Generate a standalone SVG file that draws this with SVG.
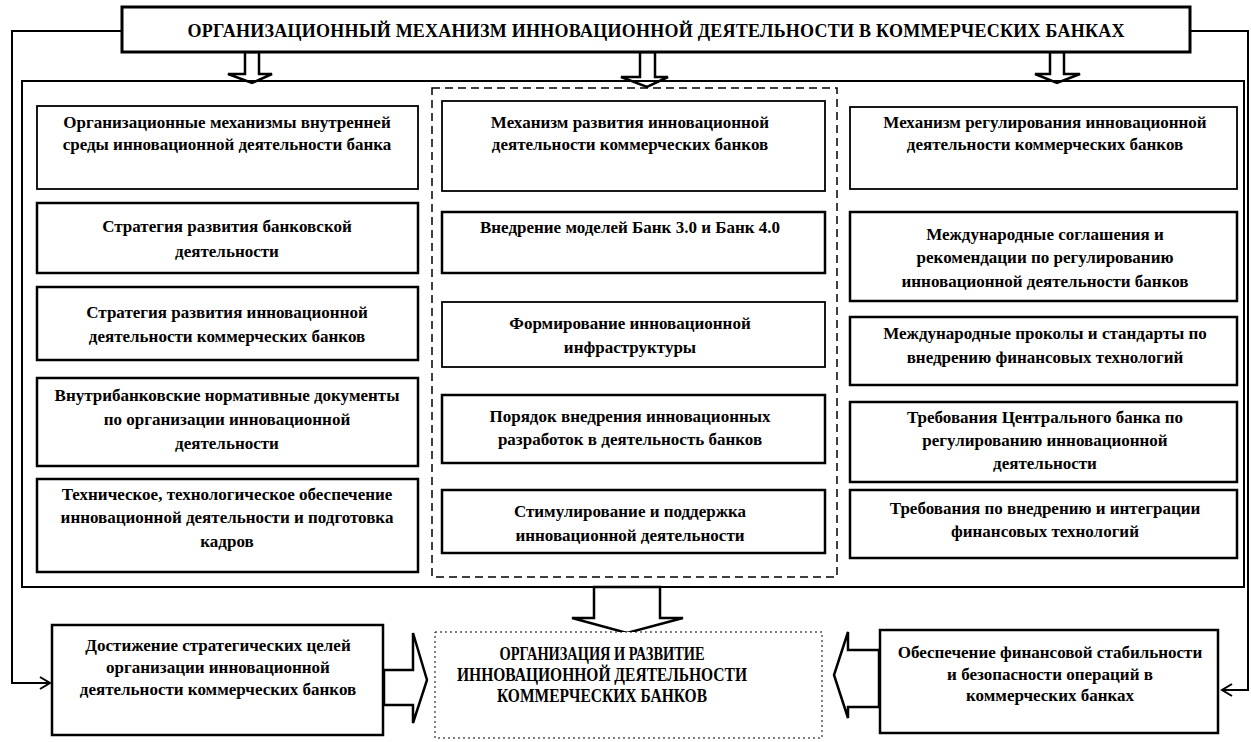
<svg xmlns="http://www.w3.org/2000/svg" width="1251" height="742" viewBox="0 0 1251 742">
<style>
.bx{fill:#fff;stroke:#000;stroke-width:2.5}
.bt{fill:#fff;stroke:#000;stroke-width:1.8}
.t{font-family:"Liberation Serif","Times New Roman",serif;font-size:17px;font-weight:bold;text-anchor:middle;fill:#000}
.tt{font-family:"Liberation Serif","Times New Roman",serif;font-size:18px;font-weight:bold;text-anchor:middle;fill:#000}
.tc{font-family:"Liberation Serif","Times New Roman",serif;font-size:19px;font-weight:bold;text-anchor:middle;fill:#000}
.ln{fill:none;stroke:#000;stroke-width:2}
.ba{fill:#fff;stroke:#000;stroke-width:2.5;stroke-linejoin:miter}
</style>
<defs>
<marker id="open" markerWidth="14" markerHeight="14" refX="12" refY="7" orient="auto" markerUnits="userSpaceOnUse">
<path d="M2,1 L12,7 L2,13" fill="none" stroke="#000" stroke-width="2"/>
</marker>
</defs>
<rect width="1251" height="742" fill="#fff"/>

<g id="connectors">
<polyline class="ln" points="122,31 12,31 12,683 50,683" marker-end="url(#open)"/>
<polyline class="ln" points="1190,31 1248,31 1248,690 1222,690" marker-end="url(#open)"/>
<polygon class="ba" points="245,52 259,52 259,74 272,74 252,83 228,74 245,74"/>
<polygon class="ba" points="640,52 655,52 655,77 668,77 647,87 621,77 640,77"/>
<polygon class="ba" points="1050,52 1064,52 1064,74 1080,74 1057,83 1035,74 1050,74"/>
<polygon class="ba" points="594,587 660,587 660,618 683,618 627,633 572,618 594,618"/>
<polygon class="ba" points="384,670 413,670 413,633 427,680 413,723 413,705 384,705"/>
<polygon class="ba" points="879,650 848,650 848,632 834,675 848,718 848,707 879,707"/>
</g>

<g id="title">
<rect x="122" y="7" width="1068" height="45" fill="#fff" stroke="#000" stroke-width="3"/>
<text class="tt" x="656" y="37" textLength="937" lengthAdjust="spacing">ОРГАНИЗАЦИОННЫЙ МЕХАНИЗМ ИННОВАЦИОННОЙ ДЕЯТЕЛЬНОСТИ В КОММЕРЧЕСКИХ БАНКАХ</text>
</g>

<g id="outer">
<rect x="22" y="81" width="1222" height="506" fill="none" stroke="#000" stroke-width="2"/>
</g>

<g id="middle-frame">
<rect x="432" y="88" width="405" height="489" fill="none" stroke="#000" stroke-width="1.5" stroke-dasharray="8,5"/>
</g>

<g id="L1"><rect class="bt" x="37" y="106" width="381" height="83"/>
<text class="t" x="227" y="128">Организационные механизмы внутренней</text>
<text class="t" x="227" y="150">среды инновационной деятельности банка</text></g>
<g id="L2"><rect class="bx" x="37" y="203" width="381" height="70"/>
<text class="t" x="227" y="232">Стратегия развития банковской</text>
<text class="t" x="227" y="257">деятельности</text></g>
<g id="L3"><rect class="bx" x="37" y="287" width="381" height="73"/>
<text class="t" x="227" y="318">Стратегия развития инновационной</text>
<text class="t" x="227" y="342">деятельности коммерческих банков</text></g>
<g id="L4"><rect class="bx" x="37" y="378" width="381" height="88"/>
<text class="t" x="227" y="401">Внутрибанковские нормативные документы</text>
<text class="t" x="227" y="425">по организации инновационной</text>
<text class="t" x="227" y="449">деятельности</text></g>
<g id="L5"><rect class="bx" x="37" y="479" width="381" height="93"/>
<text class="t" x="227" y="500">Техническое, технологическое обеспечение</text>
<text class="t" x="227" y="523">инновационной деятельности и подготовка</text>
<text class="t" x="227" y="547">кадров</text></g>

<g id="M1"><rect class="bt" x="442" y="101" width="383" height="90"/>
<text class="t" x="630" y="128">Механизм развития инновационной</text>
<text class="t" x="630" y="150">деятельности коммерческих банков</text></g>
<g id="M2"><rect class="bx" x="442" y="212" width="383" height="61"/>
<text class="t" x="630" y="233">Внедрение моделей Банк 3.0 и Банк 4.0</text></g>
<g id="M3"><rect class="bt" x="442" y="302" width="383" height="65"/>
<text class="t" x="630" y="329">Формирование инновационной</text>
<text class="t" x="630" y="353">инфраструктуры</text></g>
<g id="M4"><rect class="bx" x="442" y="395" width="383" height="68"/>
<text class="t" x="630" y="422">Порядок внедрения инновационных</text>
<text class="t" x="630" y="445">разработок в деятельность банков</text></g>
<g id="M5"><rect class="bx" x="442" y="490" width="383" height="63"/>
<text class="t" x="630" y="517">Стимулирование и поддержка</text>
<text class="t" x="630" y="541">инновационной деятельности</text></g>

<g id="R1"><rect class="bt" x="850" y="107" width="387" height="82"/>
<text class="t" x="1045" y="128">Механизм регулирования инновационной</text>
<text class="t" x="1045" y="150">деятельности коммерческих банков</text></g>
<g id="R2"><rect class="bx" x="850" y="212" width="387" height="89"/>
<text class="t" x="1045" y="240">Международные соглашения и</text>
<text class="t" x="1045" y="263">рекомендации по регулированию</text>
<text class="t" x="1045" y="287">инновационной деятельности банков</text></g>
<g id="R3"><rect class="bx" x="850" y="317" width="387" height="68"/>
<text class="t" x="1045" y="339">Международные проколы и стандарты по</text>
<text class="t" x="1045" y="363">внедрению финансовых технологий</text></g>
<g id="R4"><rect class="bx" x="850" y="402" width="387" height="80"/>
<text class="t" x="1045" y="423">Требования Центрального банка по</text>
<text class="t" x="1045" y="446">регулированию инновационной</text>
<text class="t" x="1045" y="469">деятельности</text></g>
<g id="R5"><rect class="bx" x="850" y="490" width="387" height="68"/>
<text class="t" x="1045" y="514">Требования по внедрению и интеграции</text>
<text class="t" x="1045" y="537">финансовых технологий</text></g>

<g id="B-left"><rect class="bx" x="52" y="625" width="331" height="110"/>
<text class="t" x="218" y="651">Достижение стратегических целей</text>
<text class="t" x="218" y="673">организации инновационной</text>
<text class="t" x="218" y="695">деятельности коммерческих банков</text></g>

<g id="B-center"><rect x="435" y="632" width="387" height="106" fill="#fff" stroke="#000" stroke-width="1" stroke-dasharray="2,3"/>
<text class="tc" x="602" y="660" textLength="205" lengthAdjust="spacingAndGlyphs">ОРГАНИЗАЦИЯ И РАЗВИТИЕ</text>
<text class="tc" x="602" y="681" textLength="290" lengthAdjust="spacingAndGlyphs">ИННОВАЦИОННОЙ ДЕЯТЕЛЬНОСТИ</text>
<text class="tc" x="602" y="702" textLength="210" lengthAdjust="spacingAndGlyphs">КОММЕРЧЕСКИХ БАНКОВ</text></g>

<g id="B-right"><rect class="bx" x="880" y="630" width="338" height="103"/>
<text class="t" x="1050" y="658">Обеспечение финансовой стабильности</text>
<text class="t" x="1050" y="680">и безопасности операций в</text>
<text class="t" x="1050" y="701">коммерческих банках</text></g>
</svg>
